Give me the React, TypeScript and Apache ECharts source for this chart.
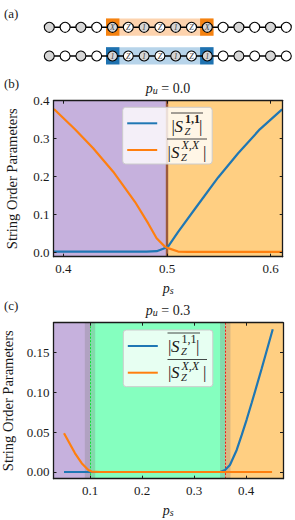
import React, { useEffect, useRef } from "react";
import * as echarts from "echarts";

const FONT = "'Liberation Serif', serif";
const INK = "#1a1a1a";
const BLUE = "#1f77b4";
const ORANGE = "#ff7f0e";
const PURPLE = "#C6B1DD";
const AMBER = "#FFCF82";
const MINT = "#85FFBF";
const BAND = "rgba(128,128,128,0.3)";

const NAME_ONE = "S_Z^{1,1}";
const NAME_X = "S_Z^{X,X}";

const bIdentity: [number, number][] = [
  [0.3905, 0.003], [0.44, 0.003], [0.48, 0.003], [0.49, 0.004], [0.4963, 0.0105], [0.501, 0.016],
  [0.5107, 0.055], [0.5284, 0.121], [0.5493, 0.198], [0.5686, 0.2616], [0.5895, 0.3247], [0.611, 0.377],
];
const bX: [number, number][] = [
  [0.3908, 0.378], [0.4111, 0.3247], [0.4287, 0.2747], [0.448, 0.2132], [0.469, 0.134], [0.4818, 0.077],
  [0.4899, 0.038], [0.4979, 0.016], [0.501, 0.012], [0.5107, 0.003], [0.52, 0.002], [0.56, 0.002], [0.6116, 0.002],
];
const cIdentity: [number, number][] = [
  [0.05, 0], [0.2, 0], [0.35, 0], [0.3596, 0.0025], [0.369, 0.0088], [0.382, 0.0276], [0.3917, 0.0464],
  [0.4013, 0.066], [0.411, 0.087], [0.4302, 0.13], [0.4513, 0.1788],
];
const cX: [number, number][] = [
  [0.05, 0.0485], [0.0712, 0.0234], [0.084, 0.011], [0.0968, 0.0025], [0.103, 0.0005], [0.12, 0], [0.3, 0], [0.45, 0],
];

const bXTicks = [0.4, 0.5, 0.6];
const bYTicks = [0, 0.1, 0.2, 0.3, 0.4];
const cXTicks = [0.1, 0.2, 0.3, 0.4];
const cYTicks = [0, 0.05, 0.1, 0.15];

const bXRange = [0.3904, 0.6116];
const bYRange = [-0.0105, 0.4];
const cXRange = [0.0298, 0.471];
const cYRange = [-0.0084, 0.187];

const chainTop = ["X", "Z", "1", "Z", "1", "Z", "X"];
const chainBottom = ["1", "Z", "1", "Z", "1", "Z", "1"];
const SITE_COUNT = 16;

const axisLine = { onZero: false, lineStyle: { color: INK, width: 1.3 } };

function xAxisPair(gridIndex: number, range: number[], ticks: number[], digits: number) {
  const tick = { inside: true, length: 3, customValues: ticks, lineStyle: { color: INK, width: 1 } };
  return [
    {
      type: "value", gridIndex, position: "bottom", min: range[0], max: range[1], z: 3,
      splitLine: { show: false }, axisLine, axisTick: tick,
      axisLabel: { customValues: ticks, margin: 5, fontFamily: FONT, fontSize: 13, color: INK, formatter: (v: number) => v.toFixed(digits) },
      name: "{i|p}{s|s}", nameLocation: "middle", nameGap: 25,
      nameTextStyle: {
        rich: {
          i: { fontFamily: FONT, fontStyle: "italic", fontSize: 14, color: INK },
          s: { fontFamily: FONT, fontStyle: "italic", fontSize: 10, color: INK, verticalAlign: "bottom", padding: [4, 0, 0, 0] },
        },
      },
    },
    {
      type: "value", gridIndex, position: "top", min: range[0], max: range[1], z: 3,
      splitLine: { show: false }, axisLine, axisTick: tick, axisLabel: { show: false },
    },
  ];
}

function yAxisPair(gridIndex: number, range: number[], ticks: number[], digits: number) {
  const tick = { inside: true, length: 3, customValues: ticks, lineStyle: { color: INK, width: 1 } };
  return [
    {
      type: "value", gridIndex, position: "left", min: range[0], max: range[1], z: 3,
      splitLine: { show: false }, axisLine, axisTick: tick,
      axisLabel: { customValues: ticks, margin: 4, fontFamily: FONT, fontSize: 13, color: INK, formatter: (v: number) => v.toFixed(digits) },
      name: "String Order Parameters", nameLocation: "middle", nameGap: 34,
      nameTextStyle: { fontFamily: FONT, fontSize: 14.5, color: INK },
    },
    {
      type: "value", gridIndex, position: "right", min: range[0], max: range[1], z: 3,
      splitLine: { show: false }, axisLine, axisTick: tick, axisLabel: { show: false },
    },
  ];
}

function legendAt(left: number, top: number) {
  return {
    orient: "vertical", left, top, z: 6, selectedMode: false,
    data: [{ name: NAME_ONE, icon: "rect" }, { name: NAME_X, icon: "rect" }],
    itemWidth: 30, itemHeight: 2, itemGap: 6.7, padding: [6, 4, 4, 4.5], align: "left",
    backgroundColor: "rgba(255,255,255,0.8)", borderColor: "#cccccc", borderWidth: 1, borderRadius: 3,
    formatter: () => "\u00a0",
    textStyle: { width: 46, height: 20, lineHeight: 20, fontSize: 12, color: INK },
  };
}

function titleAt(text: string, top: number) {
  return {
    text: `{i|p}{s|u}{n| = ${text}}`, left: 168, top, textAlign: "center", padding: 0,
    textStyle: {
      fontWeight: "normal",
      rich: {
        i: { fontFamily: FONT, fontStyle: "italic", fontWeight: "normal", fontSize: 14, color: INK },
        s: { fontFamily: FONT, fontStyle: "italic", fontWeight: "normal", fontSize: 10, color: INK, verticalAlign: "bottom", padding: [4, 0, 0, 0] },
        n: { fontFamily: FONT, fontWeight: "normal", fontSize: 14, color: INK },
      },
    },
  };
}

function txt(x: number, y: number, text: string, font: string, fill = INK, align = "left") {
  return { type: "text", x, y, z: 20, silent: true, style: { text, font, fill, textAlign: align, textVerticalAlign: "middle" } };
}

function mathLabel(x: number, right: number, yS: number, sup: string, boldSup: boolean, calX: number) {
  const top = yS - 13;
  return [
    { type: "line", z: 20, silent: true, shape: { x1: x, y1: top, x2: right, y2: top }, style: { stroke: INK, lineWidth: 0.8 } },
    txt(x + 0.5, yS, "|", `17px ${FONT}`),
    txt(calX, yS, "S", `italic 17px ${FONT}`),
    txt(calX + 10.5, yS - 6.7, sup, `${boldSup ? "bold " : ""}${sup.includes("X") ? "italic " : ""}12px ${FONT}`),
    txt(calX + 10, yS + 5, "Z", `italic 10.5px ${FONT}`),
    txt(right - 4, yS, "|", `17px ${FONT}`),
  ];
}

function chainRow(y: number, ops: string[], dark: string, light: string) {
  const x0 = 49.3;
  const step = 15.8;
  const out: any[] = [
    { type: "rect", z: 10, silent: true, shape: { x: 106, y: y - 8.8, width: 107.5, height: 17.2 }, style: { fill: light } },
    { type: "rect", z: 10, silent: true, shape: { x: 106, y: y - 8.8, width: 13.4, height: 17.2 }, style: { fill: dark } },
    { type: "rect", z: 10, silent: true, shape: { x: 200.1, y: y - 8.8, width: 13.4, height: 17.2 }, style: { fill: dark } },
    { type: "line", z: 11, silent: true, shape: { x1: x0, y1: y, x2: x0 + step * (SITE_COUNT - 1), y2: y }, style: { stroke: "#000", lineWidth: 1.4 } },
  ];
  for (let i = 0; i < SITE_COUNT; i++) {
    const cx = x0 + step * i;
    out.push({ type: "circle", z: 12, silent: true, shape: { cx, cy: y, r: 5 }, style: { fill: i % 2 === 0 ? "#D6D6D6" : "#FFFFFF", stroke: "#000", lineWidth: 1.1 } });
    const op = ops[i - 4];
    if (op) out.push(txt(cx, y, op, `italic 8px ${FONT}`, "#444444", "center"));
  }
  return out;
}

export default function App() {
  const ref = useRef<HTMLDivElement>(null);
  useEffect(() => {
    document.body.style.margin = "0";
    const chart = echarts.init(ref.current!, undefined, { renderer: "svg" });
    const lineSeries = (name: string, color: string, data: [number, number][], idx: number, extra: object) => ({
      type: "line", name, data, xAxisIndex: idx, yAxisIndex: idx, symbol: "none", showSymbol: false, z: 2,
      lineStyle: { color, width: 2.2 }, itemStyle: { color }, silent: true, ...extra,
    });
    const vline = (xAxis: number, color: string, width: number, type: any) => ({
      xAxis, lineStyle: { color, width, type, opacity: 1 },
    });
    const marker = (list: object[]) => ({
      silent: true, symbol: "none", z: 1.5, label: { show: false }, data: list,
    });
    const area = (a: number, b: number, color: string) => [{ xAxis: a, itemStyle: { color } }, { xAxis: b }];

    chart.setOption({
      animation: false,
      backgroundColor: "#ffffff",
      title: [titleAt("0.0", 81), titleAt("0.3", 303)],
      grid: [
        { left: 53.5, top: 100.7, width: 229.2, height: 156, outerBoundsMode: "none" },
        { left: 53.5, top: 322.7, width: 229.5, height: 156, outerBoundsMode: "none" },
      ],
      xAxis: [...xAxisPair(0, bXRange, bXTicks, 1), ...xAxisPair(1, cXRange, cXTicks, 1)],
      yAxis: [...yAxisPair(0, bYRange, bYTicks, 1), ...yAxisPair(1, cYRange, cYTicks, 2)],
      legend: [legendAt(122.7, 107.3), legendAt(123.3, 330)],
      series: [
        lineSeries(NAME_ONE, BLUE, bIdentity, 0, {
          markArea: { silent: true, z: 1, data: [area(bXRange[0], 0.5, PURPLE), area(0.5, bXRange[1], AMBER)] },
          markLine: marker([vline(0.5, "#9C5A3C", 2.4, "solid")]),
        }),
        lineSeries(NAME_X, ORANGE, bX, 0, {}),
        lineSeries(NAME_ONE, BLUE, cIdentity, 2, {
          markArea: {
            silent: true, z: 1,
            data: [
              area(cXRange[0], 0.1, PURPLE), area(0.1, 0.36, MINT), area(0.36, cXRange[1], AMBER),
              area(0.09, 0.11, BAND), area(0.35, 0.37, BAND),
            ],
          },
          markLine: marker([vline(0.1, "#10e030", 1, [2, 1.5]), vline(0.36, "#ee1c1c", 1, [2, 1.5])]),
        }),
        lineSeries(NAME_X, ORANGE, cX, 2, {}),
      ],
      graphic: {
        elements: [
          txt(4, 13, "(a)", `13px ${FONT}`),
          txt(4, 83, "(b)", `13px ${FONT}`),
          txt(4, 305, "(c)", `13px ${FONT}`),
          ...chainRow(27.3, chainTop, "#F58210", "#FDD3AE"),
          ...chainRow(56, chainBottom, "#1F72B0", "#B7D4EA"),
          ...mathLabel(171, 203, 126, "1,1", true, 174.5),
          ...mathLabel(167, 207, 152, "X,X", false, 171),
          ...mathLabel(167.5, 200, 346, "1,1", false, 171),
          ...mathLabel(167.5, 207, 372.5, "X,X", false, 171),
        ],
      },
    } as any);
    return () => chart.dispose();
  }, []);
  return <div ref={ref} style={{ width: 295, height: 520 }} />;
}
